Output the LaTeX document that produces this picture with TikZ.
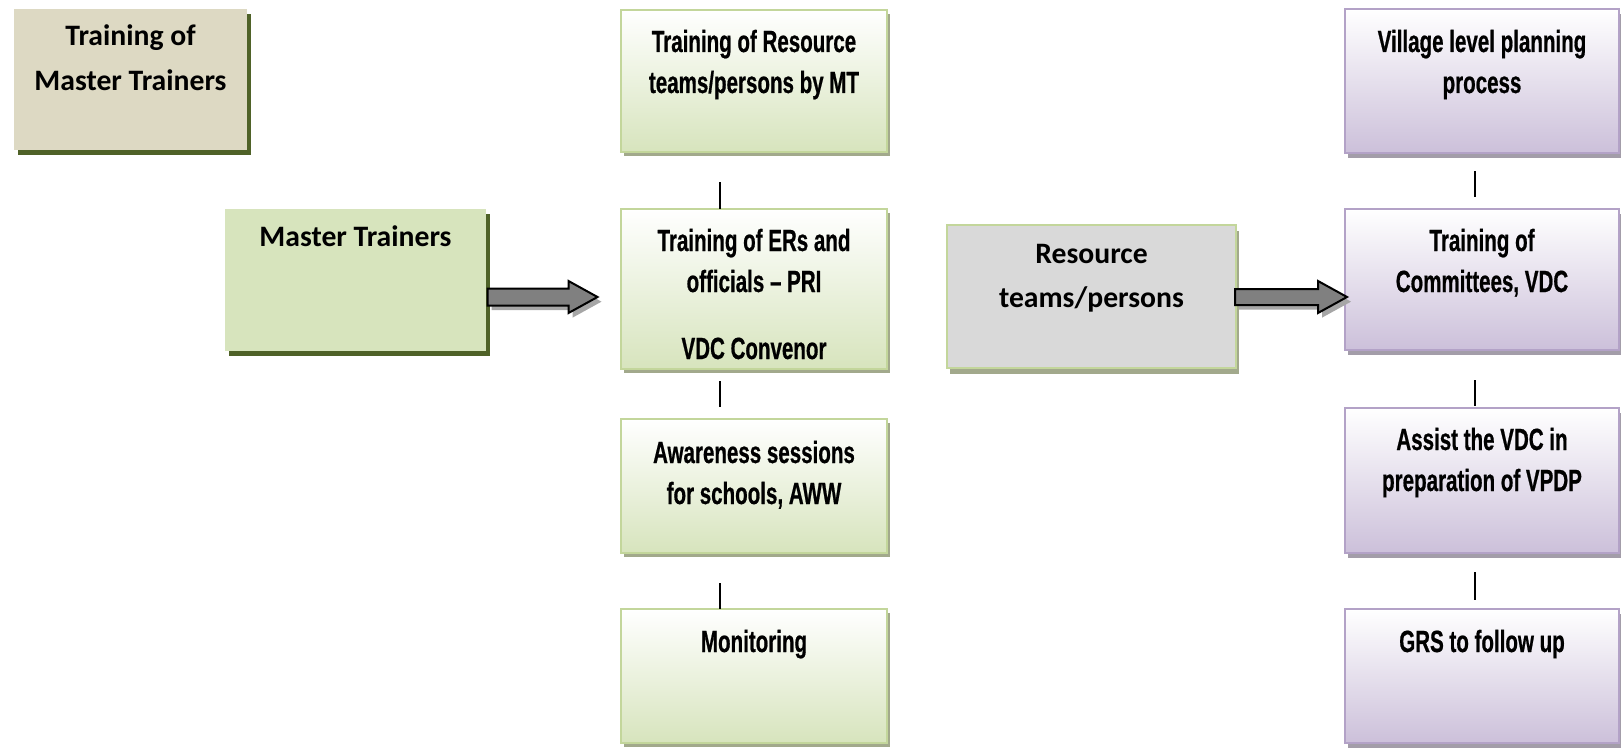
\documentclass[tikz,border=0pt]{standalone}
\usepackage{fontspec}
\setmainfont{Carlito}
\newfontfamily\agency[FakeStretch=0.67,FakeBold=0.6]{Liberation Sans}
\usetikzlibrary{calc,shadows}
\definecolor{tanfill}{HTML}{DDD9C3}
\definecolor{olivesh}{HTML}{4F6228}
\definecolor{gfill}{HTML}{D7E4BD}
\definecolor{gborder}{HTML}{C3D69B}
\definecolor{gshadow}{HTML}{A2A98C}
\definecolor{pfill}{HTML}{CCC0DA}
\definecolor{pborder}{HTML}{B3A2C7}
\definecolor{pshadow}{HTML}{A39DA9}
\definecolor{grayfill}{HTML}{D9D9D9}
\definecolor{arrowfill}{HTML}{808080}
\definecolor{arrowsh}{HTML}{A6A6A6}
\tikzset{
  boxbase/.style={rectangle, anchor=north west, inner sep=0pt, outer sep=0pt},
  leftbox/.style={boxbase, general shadow={fill=olivesh, shadow xshift=3pt, shadow yshift=-4pt}},
  greenbox/.style={boxbase, draw=gborder, line width=1.5pt, top color=white, bottom color=gfill,
     general shadow={fill=gshadow, shadow xshift=2pt, shadow yshift=-3pt}},
  purplebox/.style={boxbase, draw=pborder, line width=1.5pt, top color=white, bottom color=pfill,
     general shadow={fill=pshadow, shadow xshift=2pt, shadow yshift=-3.5pt}},
  graybox/.style={boxbase, draw=gborder, line width=1.5pt, fill=grayfill,
     general shadow={fill=gshadow, shadow xshift=2.5pt, shadow yshift=-4.5pt}},
  agtxt/.style={anchor=base, align=center, inner sep=0pt,
     font=\agency\bfseries\fontsize{23pt}{30.75pt}\selectfont},
  cbtxt/.style={anchor=base, align=center, inner sep=0pt,
     font=\bfseries\fontsize{22.25pt}{33pt}\selectfont},
  conn/.style={line width=1.5pt, draw=black},
  blockarrow/.style={draw=black, line width=1.5pt, fill=arrowfill, line join=miter,
     general shadow={fill=arrowsh, shadow xshift=3pt, shadow yshift=-3.5pt}}
}
\begin{document}
\begin{tikzpicture}[x=0.75pt,y=-0.75pt]
\useasboundingbox (0,0) rectangle (1621,749);
% left boxes
\node[leftbox, fill=tanfill, minimum width=233*0.75pt, minimum height=141*0.75pt] (tmt) at (14,9) {};
\node[cbtxt] (tmtt) at ($(tmt.north)+(0,81)$) {Training of\\Master Trainers};
\node[leftbox, fill=gfill, minimum width=261*0.75pt, minimum height=142*0.75pt] (mt) at (225,209) {};
\node[cbtxt] (mtt) at ($(mt.north)+(0,37)$) {Master Trainers};
% centre column
\node[greenbox, minimum width=266*0.75pt, minimum height=142*0.75pt] (c1) at (621,10) {};
\node[agtxt] (c1t) at ($(c1.north)+(0,83)$) {Training of Resource\\teams/persons by MT};
\node[greenbox, minimum width=266*0.75pt, minimum height=160*0.75pt] (c2) at (621,209) {};
\node[agtxt] (c2t) at ($(c2.north)+(0,150)$) {Training of ERs and\\officials – PRI\\[19.5pt]VDC Convenor};
\node[greenbox, minimum width=266*0.75pt, minimum height=134*0.75pt] (c3) at (621,419) {};
\node[agtxt] (c3t) at ($(c3.north)+(0,85)$) {Awareness sessions\\for schools, AWW};
\node[greenbox, minimum width=266*0.75pt, minimum height=134*0.75pt] (c4) at (621,609) {};
\node[agtxt] (c4t) at ($(c4.north)+(0,43)$) {Monitoring};
% resource box
\node[graybox, minimum width=289*0.75pt, minimum height=143*0.75pt] (res) at (947,225) {};
\node[cbtxt] (rest) at ($(res.north)+(0,82)$) {Resource\\teams/persons};
% right column
\node[purplebox, minimum width=274*0.75pt, minimum height=144*0.75pt] (r1) at (1345,9) {};
\node[agtxt] (r1t) at ($(r1.north)+(0,84)$) {Village level planning\\process};
\node[purplebox, minimum width=274*0.75pt, minimum height=141*0.75pt] (r2) at (1345,209) {};
\node[agtxt] (r2t) at ($(r2.north)+(0,83)$) {Training of\\Committees, VDC};
\node[purplebox, minimum width=274*0.75pt, minimum height=145*0.75pt] (r3) at (1345,408) {};
\node[agtxt] (r3t) at ($(r3.north)+(0,83)$) {Assist the VDC in\\preparation of VPDP};
\node[purplebox, minimum width=274*0.75pt, minimum height=134*0.75pt] (r4) at (1345,609) {};
\node[agtxt] (r4t) at ($(r4.north)+(0,43)$) {GRS to follow up};
% connectors, centre column
\draw[conn] ($(c1.south west)+(99,30)$) -- ($(c2.north west)+(99,0)$);
\draw[conn] ($(c2.south west)+(99,12)$) -- ($(c3.north west)+(99,-12)$);
\draw[conn] ($(c3.south west)+(99,30)$) -- ($(c4.north west)+(99,0)$);
% connectors, right column
\draw[conn] ($(r1.south west)+(130,18)$) -- ($(r2.north west)+(130,-12)$);
\draw[conn] ($(r2.south west)+(130,30)$) -- ($(r3.north west)+(130,-2)$);
\draw[conn] ($(r3.south west)+(130,19)$) -- ($(r4.north west)+(130,-9)$);
% block arrows
\coordinate (a1) at ($(mt.north east)+(1.5,88)$);
\draw[blockarrow] ($(a1)+(0,-8.5)$) -- ++(81,0) -- ++(0,-7.5) -- ++(29,16) -- ++(-29,16) -- ++(0,-7.5) -- ++(-81,0) -- cycle;
\coordinate (a2) at ($(res.north east)+(-1,72)$);
\draw[blockarrow] ($(a2)+(0,-8)$) -- ++(83,0) -- ++(0,-8) -- ++(29,16) -- ++(-29,16) -- ++(0,-8) -- ++(-83,0) -- cycle;
\end{tikzpicture}
\end{document}
